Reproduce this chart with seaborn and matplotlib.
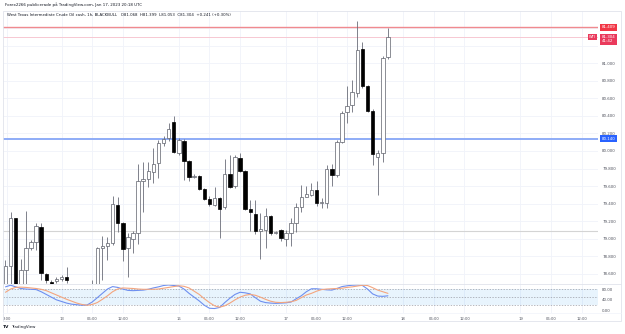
import numpy as np
import pandas as pd
import matplotlib.pyplot as plt
import matplotlib.transforms as mtrans
from matplotlib.patches import Rectangle
from matplotlib.lines import Line2D
import seaborn as sns

# hourly candles (one entry per bar)
opens = [78.30, 78.69, 79.232, 78.36, 78.643, 78.897, 78.962, 79.137, 78.598, 78.51,
         78.518, 78.54, 78.56, 78.47, 78.30, 78.35, 78.40, 78.42, 78.45, 78.894,
         78.917, 78.954, 79.384, 79.176, 78.897, 79.00, 79.062, 79.661, 79.677, 79.764,
         79.860, 80.088, 80.145, 80.334, 79.981, 80.114, 79.886, 79.707, 79.715, 79.570,
         79.449, 79.381, 79.461, 79.358, 79.738, 79.601, 79.924, 79.772, 79.335, 79.278,
         79.091, 79.099, 79.259, 79.068, 79.099, 78.993, 79.068, 79.183, 79.365, 79.479,
         79.498, 79.552, 79.407, 79.407, 79.795, 79.725, 80.099, 80.441, 80.528, 80.661,
         81.163, 80.738, 80.460, 79.928, 79.977, 81.068]
highs = [78.757, 79.30, 79.24, 78.77, 79.316, 78.985, 79.176, 79.176, 78.61, 78.53,
         78.563, 78.586, 78.674, 78.48, 78.40, 78.45, 78.46, 78.53, 78.905, 79.031,
         79.023, 79.487, 79.472, 79.19, 79.065, 79.091, 79.848, 79.878, 79.878, 80.03,
         80.125, 80.171, 80.32, 80.399, 80.15, 80.137, 79.897, 79.74, 79.727, 79.578,
         79.487, 79.593, 79.476, 79.906, 79.955, 79.955, 79.974, 79.783, 79.441, 79.441,
         79.293, 79.347, 79.27, 79.088, 79.11, 79.099, 79.232, 79.404, 79.612, 79.601,
         79.632, 79.655, 79.464, 79.844, 79.855, 80.125, 80.453, 80.738, 80.813, 81.479,
         81.24, 80.753, 80.48, 80.01, 81.083, 81.399]
lows = [78.19, 78.41, 78.30, 78.30, 78.47, 78.87, 78.87, 78.53, 78.495, 78.44,
        78.495, 78.518, 78.495, 78.25, 78.20, 78.28, 78.32, 78.35, 78.40, 78.53,
        78.757, 78.93, 79.08, 78.75, 78.567, 78.84, 78.94, 79.30, 79.586, 79.64,
        79.689, 80.057, 80.114, 79.977, 79.954, 79.67, 79.66, 79.69, 79.557, 79.44,
        79.378, 79.373, 79.005, 79.339, 79.578, 79.578, 79.76, 79.327, 79.088, 79.054,
        78.765, 78.89, 79.042, 79.054, 78.977, 78.917, 78.92, 79.08, 79.308, 79.474,
        79.487, 79.37, 79.35, 79.35, 79.60, 79.70, 80.09, 80.32, 80.441, 80.616,
        80.72, 80.445, 79.84, 79.498, 79.87, 81.053]
closes = [78.69, 79.232, 78.36, 78.643, 78.897, 78.962, 79.145, 78.606, 78.53, 78.47,
          78.54, 78.567, 78.53, 78.30, 78.35, 78.40, 78.42, 78.45, 78.894, 78.92,
          78.954, 79.396, 79.176, 78.879, 79.023, 79.07, 79.658, 79.681, 79.772, 79.848,
          80.088, 80.133, 80.247, 79.992, 80.125, 79.886, 79.707, 79.72, 79.563, 79.453,
          79.392, 79.468, 79.342, 79.734, 79.586, 79.928, 79.772, 79.335, 79.301, 79.091,
          79.11, 79.259, 79.068, 79.076, 79.005, 79.068, 79.183, 79.365, 79.479, 79.506,
          79.555, 79.407, 79.419, 79.795, 79.725, 80.099, 80.433, 80.517, 80.669, 81.155,
          80.738, 80.46, 79.966, 79.977, 81.06, 81.304]

# Stochastic RSI lines
stoch_k = [88, 94, 88, 82, 80, 79, 78, 70, 60, 50, 40, 34, 28, 24, 22, 20, 21, 32, 48, 64,
           80, 89, 86, 80, 75, 74, 75, 76, 79, 84, 88, 93, 95, 93, 91, 80, 64, 50, 36, 20,
           9, 8, 12, 30, 46, 60, 68, 66, 62, 48, 35, 30, 28, 27, 28, 29, 32, 44, 55, 70,
           81, 81, 79, 77, 76, 82, 89, 92, 94, 95, 93, 80, 62, 54, 53, 55]
stoch_d = [68, 80, 86, 87, 86, 84, 82, 79, 74, 66, 58, 50, 42, 35, 28, 23, 20, 23, 30, 42,
           55, 70, 80, 84, 83, 82, 80, 79, 79, 79, 80, 83, 86, 89, 92, 90, 84, 72, 60, 44,
           30, 18, 13, 18, 28, 40, 50, 57, 60, 57, 50, 42, 35, 31, 30, 31, 33, 38, 48, 58,
           64, 72, 78, 80, 81, 82, 83, 86, 88, 91, 94, 93, 85, 76, 70, 64]

time_ticks = [0.3, 11, 17, 23, 34, 40, 46, 55, 61, 67, 78, 84, 90, 101, 107, 113]
time_labels = ["2:00", "13", "06:00", "12:00", "16", "06:00", "12:00", "17",
               "06:00", "12:00", "18", "06:00", "12:00", "19", "06:00", "12:00"]
price_ticks = [78.6, 78.8, 79.0, 79.2, 79.4, 79.6, 79.8, 80.0, 80.2, 80.4, 80.6, 80.8, 81.0, 81.2, 81.4]
price_labels = ["78.600", "78.800", "79.000", "79.200", "79.400", "79.600", "79.800", "80.000",
                "80.200", "80.400", "80.600", "80.800", "81.000", "", ""]
stoch_ticks = [0, 40, 80]
stoch_labels = ["0.00", "40.00", "80.00"]

resistance = 81.409
support = 80.140
pivot = 79.088
last_price = 81.304

df = pd.DataFrame({"open": opens, "high": highs, "low": lows, "close": closes,
                   "k": stoch_k, "d": stoch_d})
df["bar"] = np.arange(len(df))
df["up"] = df["close"] >= df["open"]

sns.set_style("white")
plt.rcParams["font.family"] = ["DejaVu Sans"]

W, H = 625, 334
fig = plt.figure(figsize=(6.25, 3.34), dpi=100)


def fx(px):
    return px / W


def fy(py):
    return 1 - py / H


ax = fig.add_axes([fx(3), fy(283.5), fx(598) - fx(3), fy(11) - fy(283.5)])
ax2 = fig.add_axes([fx(3), fy(313), fx(598) - fx(3), fy(283.5) - fy(313)])
grid_c = "#f0f3fa"
text_c = "#50535e"

# main price panel
for a in (ax, ax2):
    a.set_xlim(-0.49, 116.2)
    a.set_xticks(time_ticks)
    a.grid(axis="x", color=grid_c, lw=0.6)
    for s in a.spines.values():
        s.set_visible(False)
    a.set_facecolor("white")

ax.set_ylim(78.489, 81.596)
ax.set_yticks(price_ticks)
ax.set_yticklabels(price_labels)
ax.grid(axis="y", color=grid_c, lw=0.6)
ax.yaxis.tick_right()
ax.tick_params(axis="y", length=0, pad=3, labelsize=2.9, labelcolor=text_c)
ax.tick_params(axis="x", length=0, labelbottom=False)

ax.axhline(resistance, color="#f08a8f", lw=1.0, zorder=1)
ax.axhline(last_price, color="#f7c8d2", lw=0.7, zorder=1)
ax.axhline(support, color="#86a6f7", lw=1.3, zorder=1)
ax.axhline(pivot, color="#d4d4d4", lw=0.8, zorder=1)

ax.vlines(df["bar"], df["low"], df["high"], color="#6a6d78", lw=0.6, zorder=2)
body = (df["close"] - df["open"]).abs().clip(lower=0.008)
bottom = df[["open", "close"]].min(axis=1)
ax.bar(df["bar"], body, bottom=bottom, width=0.68,
       color=np.where(df["up"], "white", "black"),
       edgecolor=np.where(df["up"], "#5d606b", "black"), lw=0.5, zorder=3)

blend = mtrans.blended_transform_factory(ax.transAxes, ax.transData)
ax.text(1.006, resistance, "81.409", transform=blend, fontsize=2.9, color="white",
        va="center", ha="left", clip_on=False,
        bbox=dict(boxstyle="square,pad=0.35", fc="#f23645", ec="none"))
ax.text(1.006, last_price - 0.03, "81.304\n41:42", transform=blend, fontsize=2.9,
        color="white", va="center", ha="left", clip_on=False, linespacing=1.0,
        bbox=dict(boxstyle="square,pad=0.35", fc="#ea3a5c", ec="none"))
ax.text(0.996, last_price, "WTI", transform=blend, fontsize=2.6, color="white",
        va="center", ha="right", clip_on=False,
        bbox=dict(boxstyle="square,pad=0.3", fc="#ea3a5c", ec="none"))
ax.text(1.006, support, "80.140", transform=blend, fontsize=2.9, color="white",
        va="center", ha="left", clip_on=False,
        bbox=dict(boxstyle="square,pad=0.35", fc="#2962ff", ec="none"))

# stochastic RSI panel
ax2.set_ylim(-8.5, 100.4)
ax2.axhspan(20, 80, color="#2196f3", alpha=0.1, lw=0)
for lvl in (80, 50, 20):
    ax2.axhline(lvl, color="#9a9ca5", lw=0.5, ls=(0, (2, 2)))
sns.lineplot(data=df, x="bar", y="k", color="#6e8ff0", lw=0.8, ax=ax2)
sns.lineplot(data=df, x="bar", y="d", color="#f4a57e", lw=0.8, ax=ax2)
ax2.set_xlabel("")
ax2.set_ylabel("")
ax2.set_yticks(stoch_ticks)
ax2.set_yticklabels(stoch_labels)
ax2.yaxis.tick_right()
ax2.tick_params(axis="y", length=0, pad=3, labelsize=2.9, labelcolor=text_c)
ax2.set_xticklabels(time_labels)
ax2.tick_params(axis="x", length=0, pad=3.2, labelsize=2.7, labelcolor=text_c)

# frame and separators
frame_c = "#e0e3eb"
fig.add_artist(Rectangle((fx(3), fy(321)), fx(621) - fx(3), fy(11) - fy(321),
                         transform=fig.transFigure, fill=False, ec=frame_c, lw=0.6))
fig.add_artist(Line2D([fx(3), fx(621)], [fy(283.5), fy(283.5)], color=frame_c, lw=0.6))
fig.add_artist(Line2D([fx(3), fx(621)], [fy(313), fy(313)], color="#f0f3fa", lw=0.5))

fig.text(fx(5), fy(5), "Forex2266 publicerade på TradingView.com, Jan 17, 2023 20:18 UTC",
         fontsize=2.9, color="#131722", va="center", ha="left")
fig.text(fx(7), fy(15.5),
         "West Texas Intermediate Crude Oil cash, 1h, BLACKBULL   O81.068  H81.399  L81.053  C81.304  +0.241 (+0.30%)",
         fontsize=2.8, color="#131722", va="center", ha="left")
fig.text(fx(3), fy(327), "TV", fontsize=3.2, fontweight="bold", color="#131722",
         va="center", ha="left")
fig.text(fx(11), fy(327), "TradingView", fontsize=2.9, color="#131722",
         va="center", ha="left")

fig.savefig("out.png", dpi=100, facecolor="white")
